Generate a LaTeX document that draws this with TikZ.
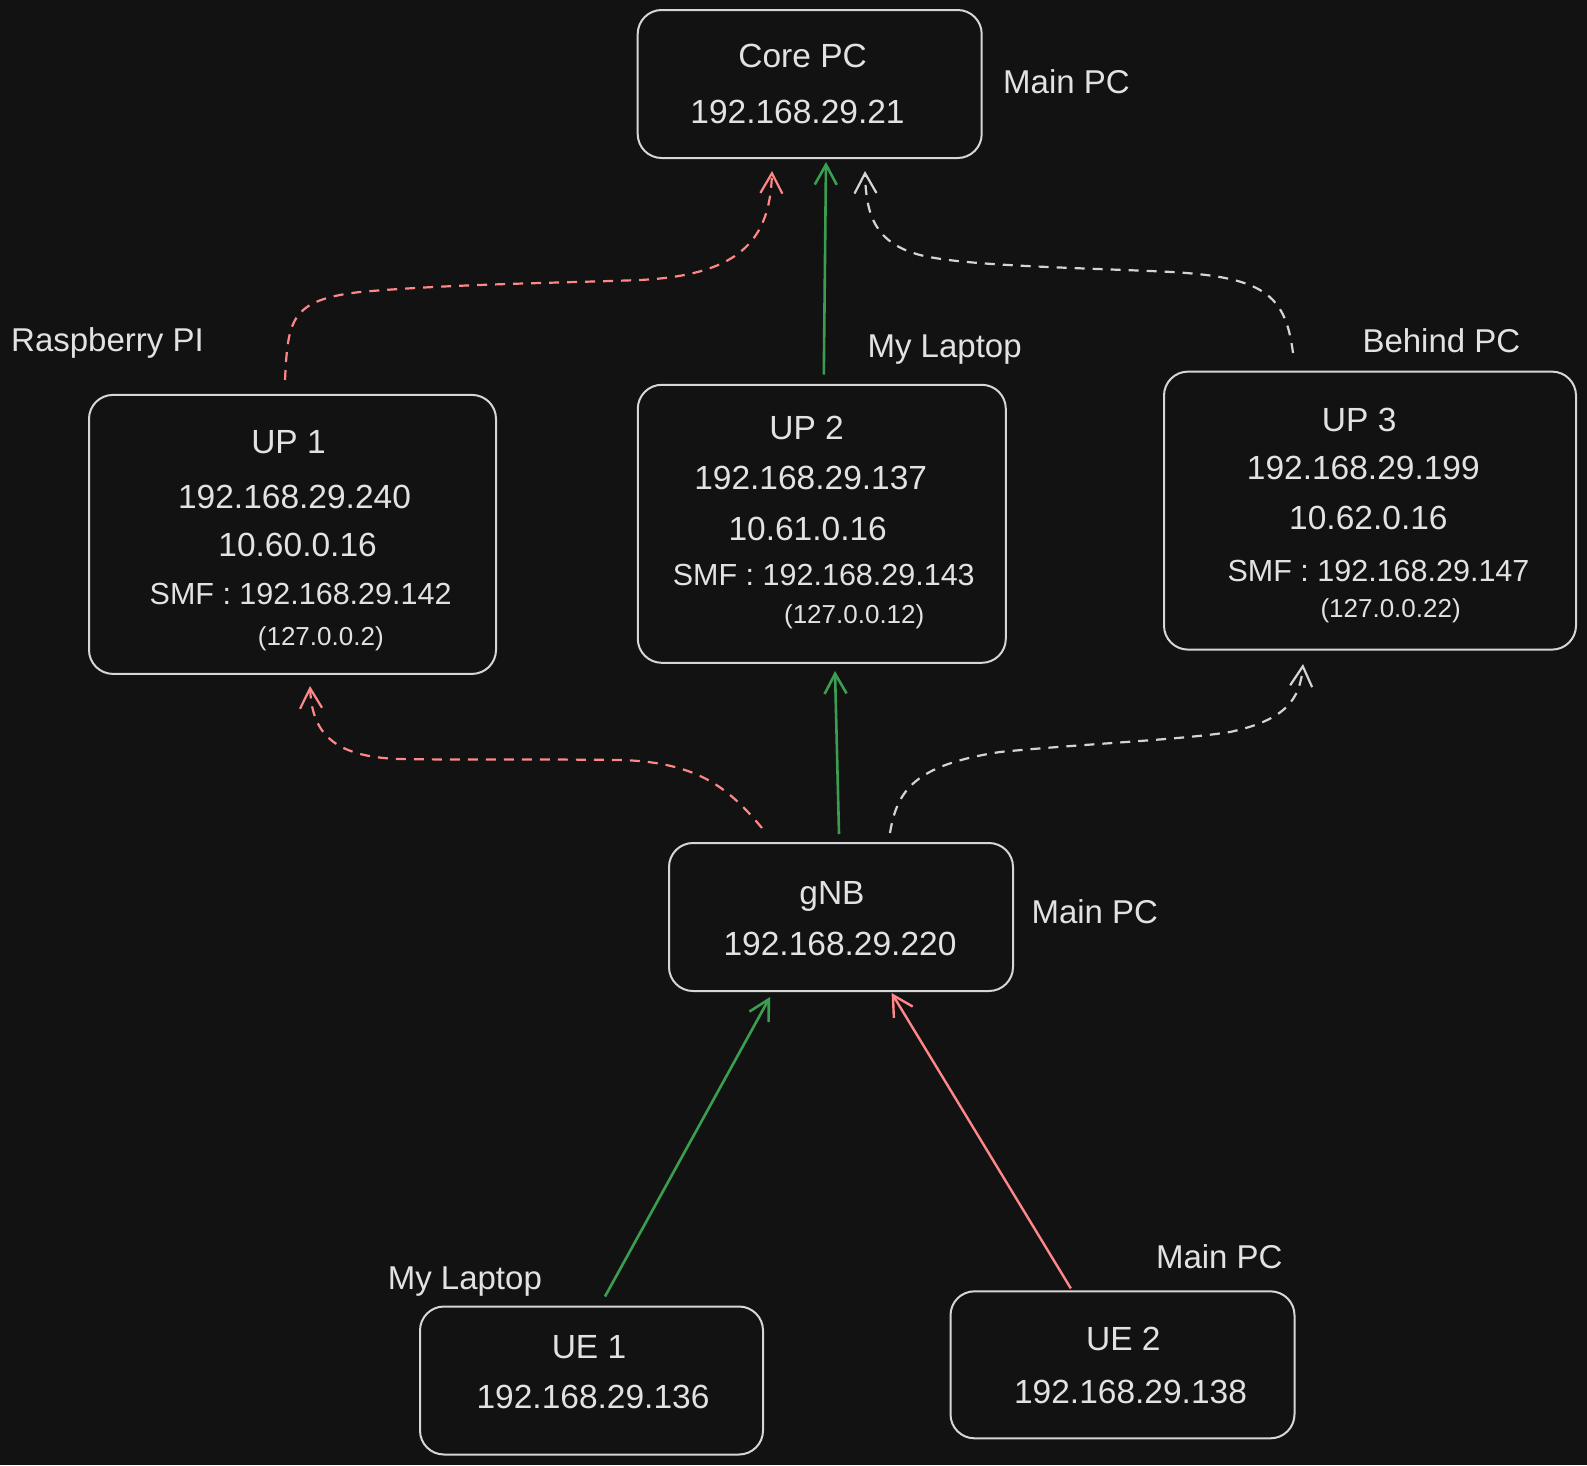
\documentclass[tikz,border=0pt]{standalone}
\usepackage{fontspec}
\setmainfont{Liberation Sans}
\usetikzlibrary{arrows.meta}
\definecolor{bg}{HTML}{121212}
\definecolor{boxc}{HTML}{D6D6D6}
\definecolor{txtc}{HTML}{E2E2E2}
\definecolor{grn}{HTML}{3A9E50}
\definecolor{redc}{HTML}{FF8787}
\definecolor{gryc}{HTML}{D4D4D4}
\tikzset{
  box/.style={draw=boxc, line width=2pt, rounded corners=24pt, fill=bg, inner sep=0pt},
  big/.style={text=txtc, inner sep=0pt, text height=24pt, text depth=0pt, font=\fontsize{33.5}{40}\selectfont},
  smf/.style={text=txtc, inner sep=0pt, text height=22pt, text depth=0pt, font=\fontsize{30.5}{36}\selectfont},
  par/.style={text=txtc, inner sep=0pt, text height=19pt, text depth=0pt, font=\fontsize{26}{30}\selectfont},
  lbl/.style={text=txtc, inner sep=0pt, anchor=west, text height=24pt, text depth=0pt, font=\fontsize{33}{40}\selectfont},
  arr/.style={-{Straight Barb[length=20pt,width=22pt]}},
  solidg/.style={arr, draw=grn, line width=2.6pt},
  solidr/.style={arr, draw=redc, line width=2.4pt},
  dashr/.style={arr, draw=redc, line width=2.2pt, dash pattern=on 10pt off 8pt},
  dashg/.style={arr, draw=gryc, line width=2.2pt, dash pattern=on 10pt off 8pt},
}
\begin{document}
\begin{tikzpicture}[x=1pt,y=-1pt]
\fill[bg] (0,0) rectangle (1587,1465);
\useasboundingbox (0,0) rectangle (1587,1465);

% boxes
\node[box, minimum width=344pt, minimum height=148pt] (core) at (809.7,84) {};
\node[box, minimum width=407pt, minimum height=279pt] (up1) at (292.5,534.4) {};
\node[box, minimum width=368pt, minimum height=278pt] (up2) at (821.8,523.8) {};
\node[box, minimum width=412pt, minimum height=278pt] (up3) at (1370,510.6) {};
\node[box, minimum width=344pt, minimum height=148pt] (gnb) at (841,917) {};
\node[box, minimum width=343pt, minimum height=148pt] (ue1) at (591.5,1380.5) {};
\node[box, minimum width=344pt, minimum height=147pt] (ue2) at (1122.5,1364.8) {};

% texts
\node[big] (coreA) at (802.6,55.7) {Core PC};
\node[big] (coreB) at (797.5,111.3) {192.168.29.21};
\node[lbl] (coreL) at (1003,81) {Main PC};

\node[big] (up1A) at (288.5,441.3) {UP 1};
\node[big] (up1B) at (294.5,496) {192.168.29.240};
\node[big] (up1C) at (297.6,544.5) {10.60.0.16};
\node[smf] (up1D) at (300.6,593) {SMF : 192.168.29.142};
\node[par] (up1E) at (320.8,635.6) {(127.0.0.2)};
\node[lbl] (up1L) at (11,339) {Raspberry PI};

\node[big] (up2A) at (806.6,427) {UP 2};
\node[big] (up2B) at (810.7,477.7) {192.168.29.137};
\node[big] (up2C) at (807.7,528.3) {10.61.0.16};
\node[smf] (up2D) at (823.8,574.9) {SMF : 192.168.29.143};
\node[par] (up2E) at (854.2,614.3) {(127.0.0.12)};
\node[lbl] (up2L) at (867.4,345) {My Laptop};

\node[big] (up3A) at (1359.2,419) {UP 3};
\node[big] (up3B) at (1363.3,467.6) {192.168.29.199};
\node[big] (up3C) at (1368.4,517.2) {10.62.0.16};
\node[smf] (up3D) at (1378.5,570.8) {SMF : 192.168.29.147};
\node[par] (up3E) at (1390.6,608.3) {(127.0.0.22)};
\node[lbl] (up3L) at (1362.3,340) {Behind PC};

\node[big] (gnbA) at (832,892.7) {gNB};
\node[big] (gnbB) at (840,943.3) {192.168.29.220};
\node[lbl] (gnbL) at (1031.3,911) {Main PC};

\node[big] (ue1A) at (589,1346) {UE 1};
\node[big] (ue1B) at (593,1396.7) {192.168.29.136};
\node[lbl] (ue1L) at (387.6,1277.3) {My Laptop};

\node[big] (ue2A) at (1123.4,1338) {UE 2};
\node[big] (ue2B) at (1130.5,1391.6) {192.168.29.138};
\node[lbl] (ue2L) at (1155.8,1256) {Main PC};

% connector end points
\coordinate (c1) at (772,171);
\coordinate (c2) at (826,162);
\coordinate (c3) at (865,171);
\coordinate (u1t) at (285,380);
\coordinate (u1b) at (310,686);
\coordinate (u2t) at (823.8,374.5);
\coordinate (u2b) at (835,671);
\coordinate (u3t) at (1293,353);
\coordinate (u3b) at (1303,664);
\coordinate (g1) at (762,828);
\coordinate (g2) at (839,834);
\coordinate (g3) at (890,833);
\coordinate (g4) at (770,997);
\coordinate (g5) at (891.6,993);
\coordinate (e1) at (605,1296.5);
\coordinate (e2) at (1070.8,1288.4);

% connectors
\draw[dashr] (u1t) .. controls (288,320) and (290,300) .. (360,292)
  .. controls (450,284) and (560,283) .. (640,280)
  .. controls (740,275) and (770,240) .. (c1);
\draw[solidg] (u2t) -- (c2);
\draw[dashg] (u3t) .. controls (1285,290) and (1260,275) .. (1150,271)
  .. controls (1050,267) and (960,265) .. (920,255)
  .. controls (875,243) and (866,215) .. (c3);
\draw[dashr] (g1) .. controls (730,790) and (700,762) .. (620,760)
  .. controls (540,759) and (450,760) .. (400,759)
  .. controls (330,757) and (312,730) .. (u1b);
\draw[solidg] (g2) -- (u2b);
\draw[dashg] (g3) .. controls (897,790) and (915,765) .. (1000,752)
  .. controls (1080,744) and (1180,740) .. (1230,732)
  .. controls (1285,720) and (1300,700) .. (u3b);
\draw[solidg] (e1) -- (g4);
\draw[solidr] (e2) -- (g5);
\end{tikzpicture}
\end{document}
